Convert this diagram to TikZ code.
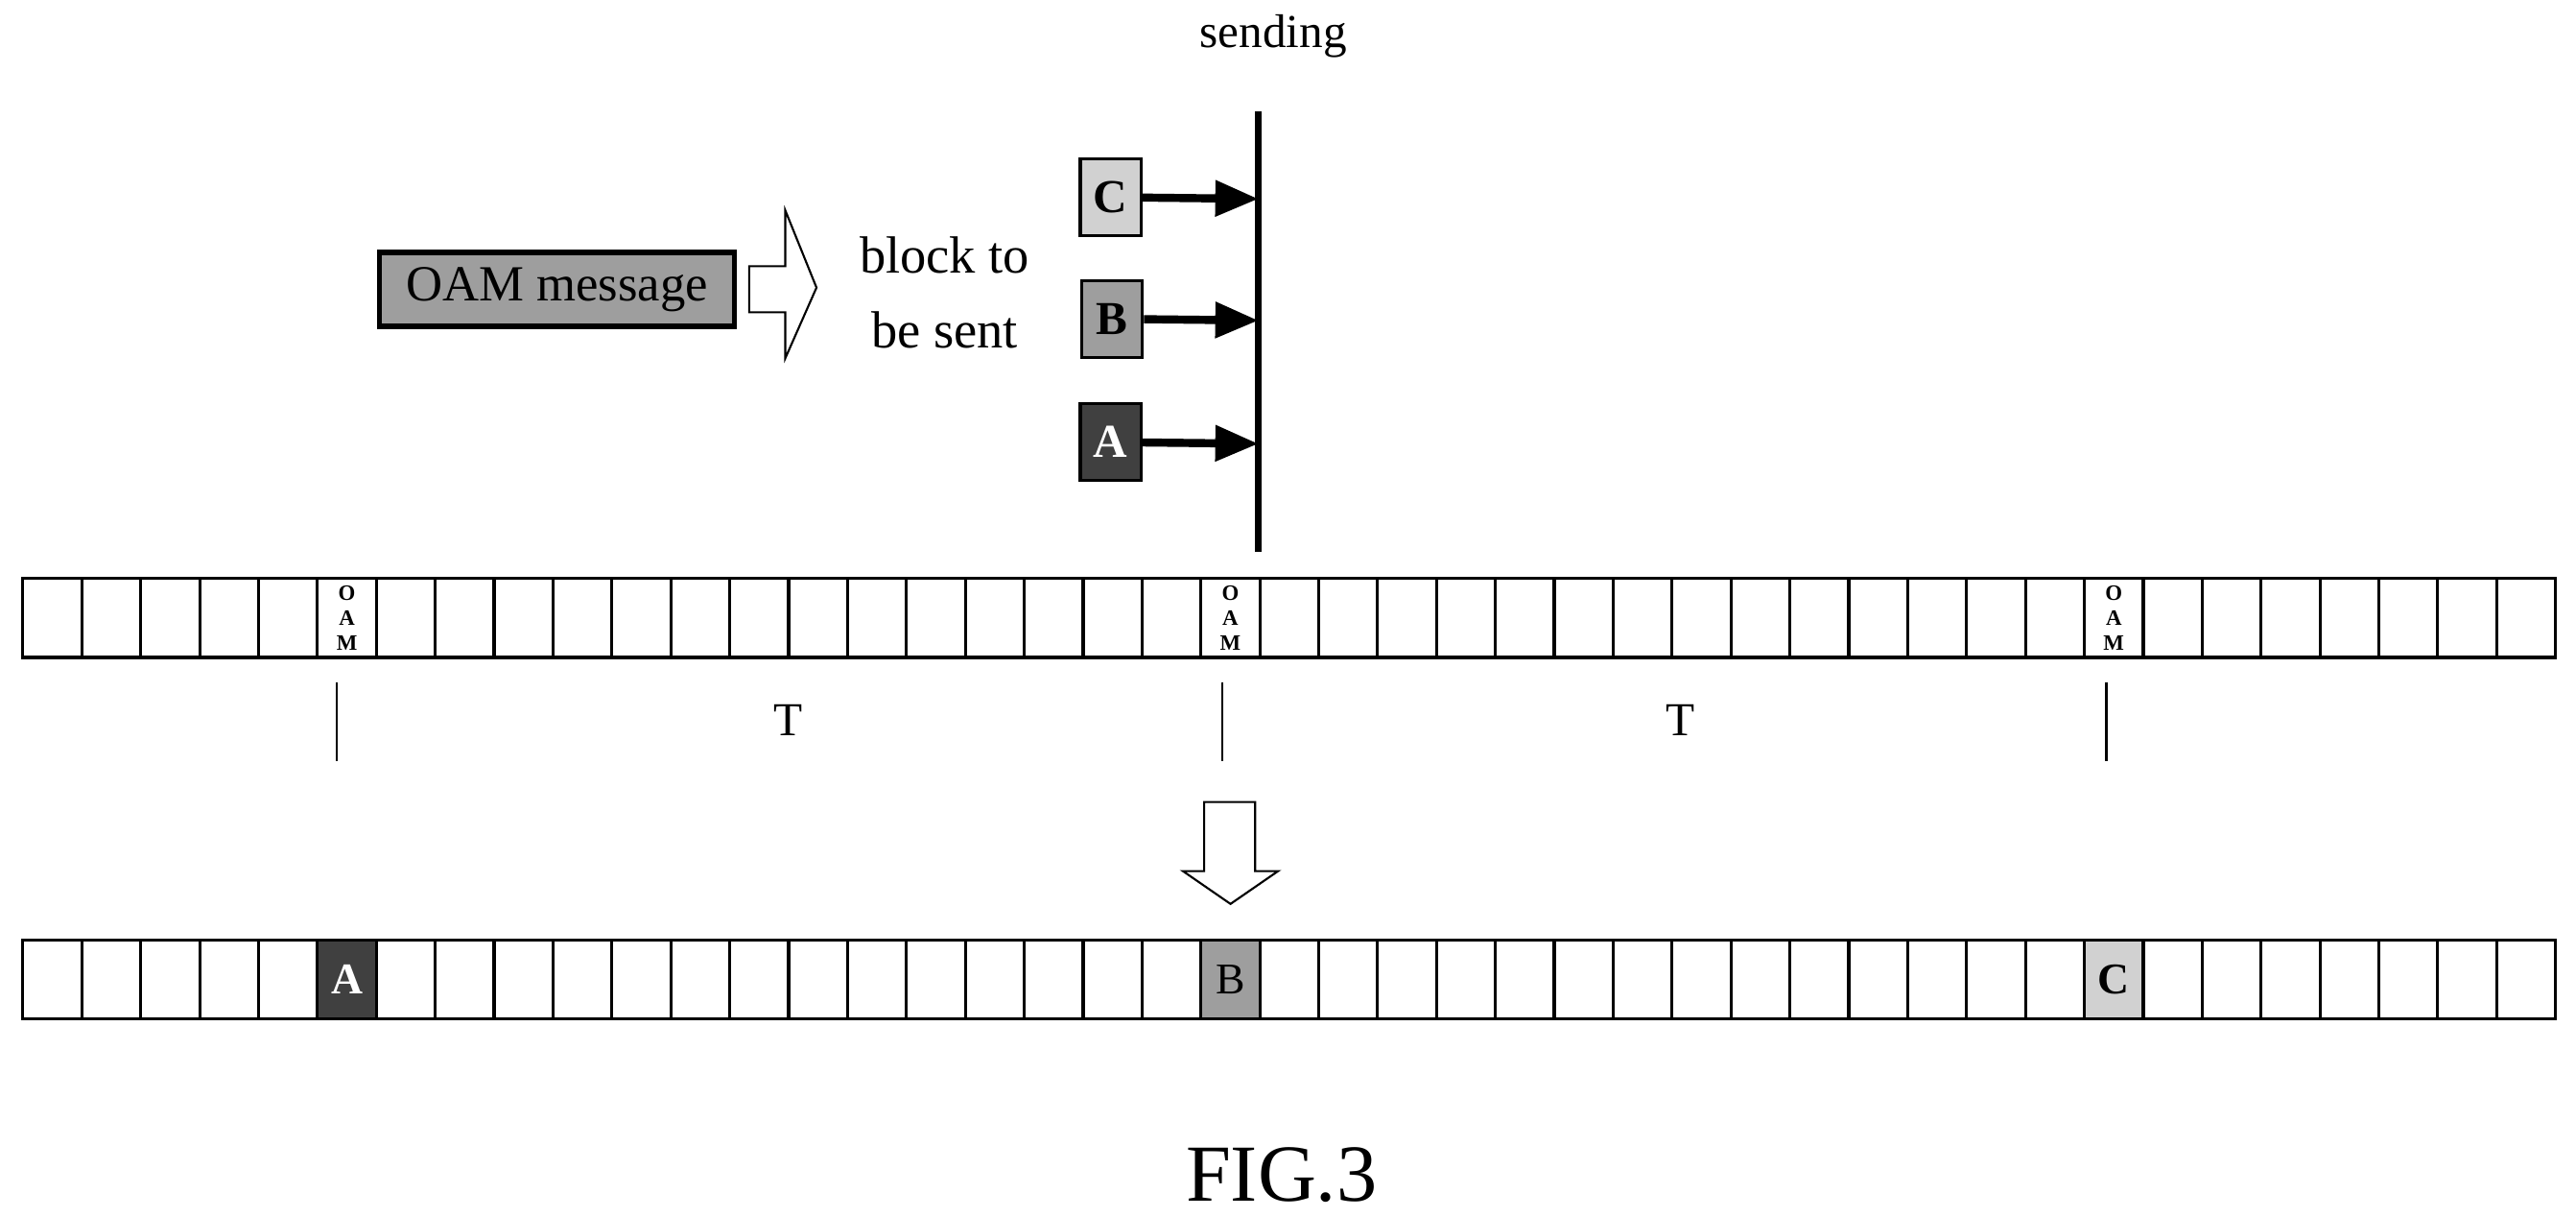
\documentclass[tikz,border=0pt]{standalone}
\usepackage{fontspec}
\setmainfont{Liberation Serif}
\usetikzlibrary{arrows.meta}

\begin{document}
\begin{tikzpicture}[x=0.01712cm,y=-0.01712cm,
	cell/.style={draw=black,line width=0.9pt,inner sep=0pt,minimum width=0.614cm,minimum height=0.822cm},
	blk/.style={draw=black,line width=0.9pt,inner sep=0pt,minimum width=0.63cm,minimum height=0.80cm,font=\fontsize{14}{16}\selectfont\bfseries},
	send/.style={-{Triangle[length=0.45cm,width=0.36cm]},line width=2.4pt},
	hollow/.style={draw=black,fill=white,line width=0.6pt}]
	
	\useasboundingbox (0,0) rectangle (1568,740);
	
	% rows of blocks
	\foreach \i in {0,...,42}{
		\node[cell] (r1c\i) at ({14+35.85*\i+17.9},376) {};
		\node[cell] (r2c\i) at ({14+35.85*\i+17.9},596) {};
	}
	\foreach \i in {5,20,35}{
		\node[align=center,font=\fontsize{6.5}{7.5}\selectfont\bfseries] at (r1c\i) {O\\A\\M};
	}
	\node[cell,fill=black!75,text=white,font=\fontsize{13}{15}\selectfont\bfseries] at (r2c5) {A};
	\node[cell,fill=black!38,font=\fontsize{13}{15}\selectfont] at (r2c20) {B};
	\node[cell,fill=black!18,font=\fontsize{13}{15}\selectfont\bfseries] at (r2c35) {C};
	
	% period marks
	\foreach \x in {205,744,1282}{
		\draw[line width=0.8pt] (\x,415) -- (\x,463);
	}
	\node[font=\fontsize{14}{16}\selectfont] (t1) at (480,438) {T};
	\node[font=\fontsize{14}{16}\selectfont] (t2) at (1023,438) {T};
	
	% down arrow
	\draw[hollow] (733,488) -- (764,488) -- (764,530) -- (778,530) -- (749,550) -- (720,530) -- (733,530) -- cycle;
	
	% sending line
	\coordinate (stop) at (766,68);
	\coordinate (sbot) at (766,336);
	\draw[line width=2pt] (stop) -- (sbot);
	\node[font=\fontsize{14}{16}\selectfont] (sending) at (775,22) {sending};
	
	\node[blk,fill=black!18] (C) at (676,120) {C};
	\node[blk,fill=black!38] (B) at (677,194) {B};
	\node[blk,fill=black!75,text=white] (A) at (676,269) {A};
	\coordinate (pC) at (766,121);
	\coordinate (pB) at (766,195);
	\coordinate (pA) at (766,270);
	\draw[send] (C) -- (pC);
	\draw[send] (B) -- (pB);
	\draw[send] (A) -- (pA);
	
	% message to block
	\node[draw=black,line width=1.5pt,fill=black!38,minimum width=3.7cm,minimum height=0.77cm,inner sep=0pt,font=\fontsize{15}{17}\selectfont] (msg) at (339,176) {OAM message};
	\draw[hollow] (456,162) -- (478,162) -- (478,128) -- (497,175) -- (478,218) -- (478,190) -- (456,190) -- cycle;
	\node[align=center,font=\fontsize{15.5}{22}\selectfont] (tosend) at (575,178) {block to\\be sent};
	
	\node[font=\fontsize{24}{28}\selectfont] (fig) at (780,715) {FIG.3};
	
\end{tikzpicture}
\end{document}
